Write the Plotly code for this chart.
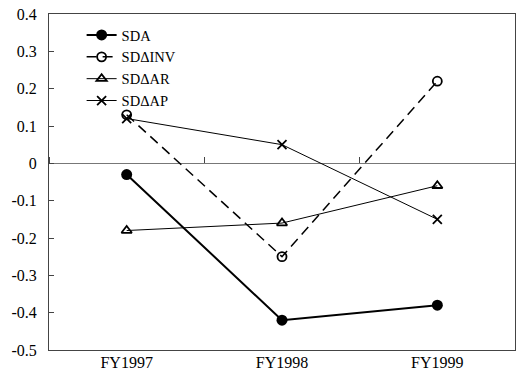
import plotly.graph_objects as go

categories = ["FY1997", "FY1998", "FY1999"]
sda = [-0.03, -0.42, -0.38]
sd_inv = [0.13, -0.25, 0.22]
sd_ar = [-0.18, -0.16, -0.06]
sd_ap = [0.12, 0.05, -0.15]
y_ticks = [0.4, 0.3, 0.2, 0.1, 0, -0.1, -0.2, -0.3, -0.4, -0.5]
y_tick_text = ["0.4", "0.3", "0.2", "0.1", "0", "-0.1", "-0.2", "-0.3", "-0.4", "-0.5"]

FONT = "Liberation Serif"

fig = go.Figure()
fig.add_trace(go.Scatter(x=categories, y=sda, name="SDA", mode="lines+markers",
                         line=dict(color="black", width=2),
                         marker=dict(symbol="circle", size=11, color="black")))
fig.add_trace(go.Scatter(x=categories, y=sd_inv, name="SDΔINV", mode="lines+markers",
                         line=dict(color="black", width=1.5, dash="10px,6px"),
                         marker=dict(symbol="circle-open", size=9, color="black", line=dict(width=1.8))))
fig.add_trace(go.Scatter(x=categories, y=sd_ar, name="SDΔAR", mode="lines+markers",
                         line=dict(color="black", width=1),
                         marker=dict(symbol="triangle-up-open", size=9, color="black", line=dict(width=1.8))))
fig.add_trace(go.Scatter(x=categories, y=sd_ap, name="SDΔAP", mode="lines+markers",
                         line=dict(color="black", width=1),
                         marker=dict(symbol="x-thin-open", size=9, color="black", line=dict(width=1.8))))
# invisible trace for the category tick marks on the zero line
fig.add_trace(go.Scatter(x=categories, y=[0, 0, 0], xaxis="x2", mode="none",
                         showlegend=False, hoverinfo="skip"))

fig.update_layout(
    width=516, height=374,
    margin=dict(l=49, r=1, t=14, b=24),
    paper_bgcolor="white", plot_bgcolor="white",
    font=dict(family=FONT, size=16, color="black"),
    showlegend=True,
    legend=dict(x=0.07, y=0.985, xanchor="left", yanchor="top",
                font=dict(family=FONT, size=14.5, color="black"),
                bgcolor="rgba(0,0,0,0)", borderwidth=0, tracegroupgap=0),
    xaxis=dict(type="category", categoryorder="array", categoryarray=categories,
               range=[-0.5, 2.5], showgrid=False, zeroline=False,
               showline=True, linecolor="#444", linewidth=1, mirror=True,
               ticks="", ticklabelstandoff=-2, tickfont=dict(family=FONT, size=16)),
    xaxis2=dict(type="category", categoryorder="array", categoryarray=categories,
                range=[-0.5, 2.5], overlaying="x", anchor="free", position=0.5/0.9,
                side="top", showgrid=False, zeroline=False, showline=False,
                ticks="outside", tickson="boundaries", ticklen=6, tickcolor="#444",
                showticklabels=False),
    yaxis=dict(range=[-0.5, 0.4], tickvals=y_ticks, ticktext=y_tick_text,
               showgrid=False, zeroline=True, zerolinecolor="#777", zerolinewidth=1,
               showline=True, linecolor="#444", linewidth=1, mirror=True,
               ticks="inside", ticklen=5, tickcolor="#444", ticklabelstandoff=8,
               tickfont=dict(family=FONT, size=16)),
)

fig.write_html("out.html", config={"displayModeBar": False})
with open("out.html", "r", encoding="utf-8") as f:
    html = f.read()
html = html.replace("<head>", "<head><style>html,body{margin:0;padding:0;overflow:hidden}</style>", 1)
with open("out.html", "w", encoding="utf-8") as f:
    f.write(html)
